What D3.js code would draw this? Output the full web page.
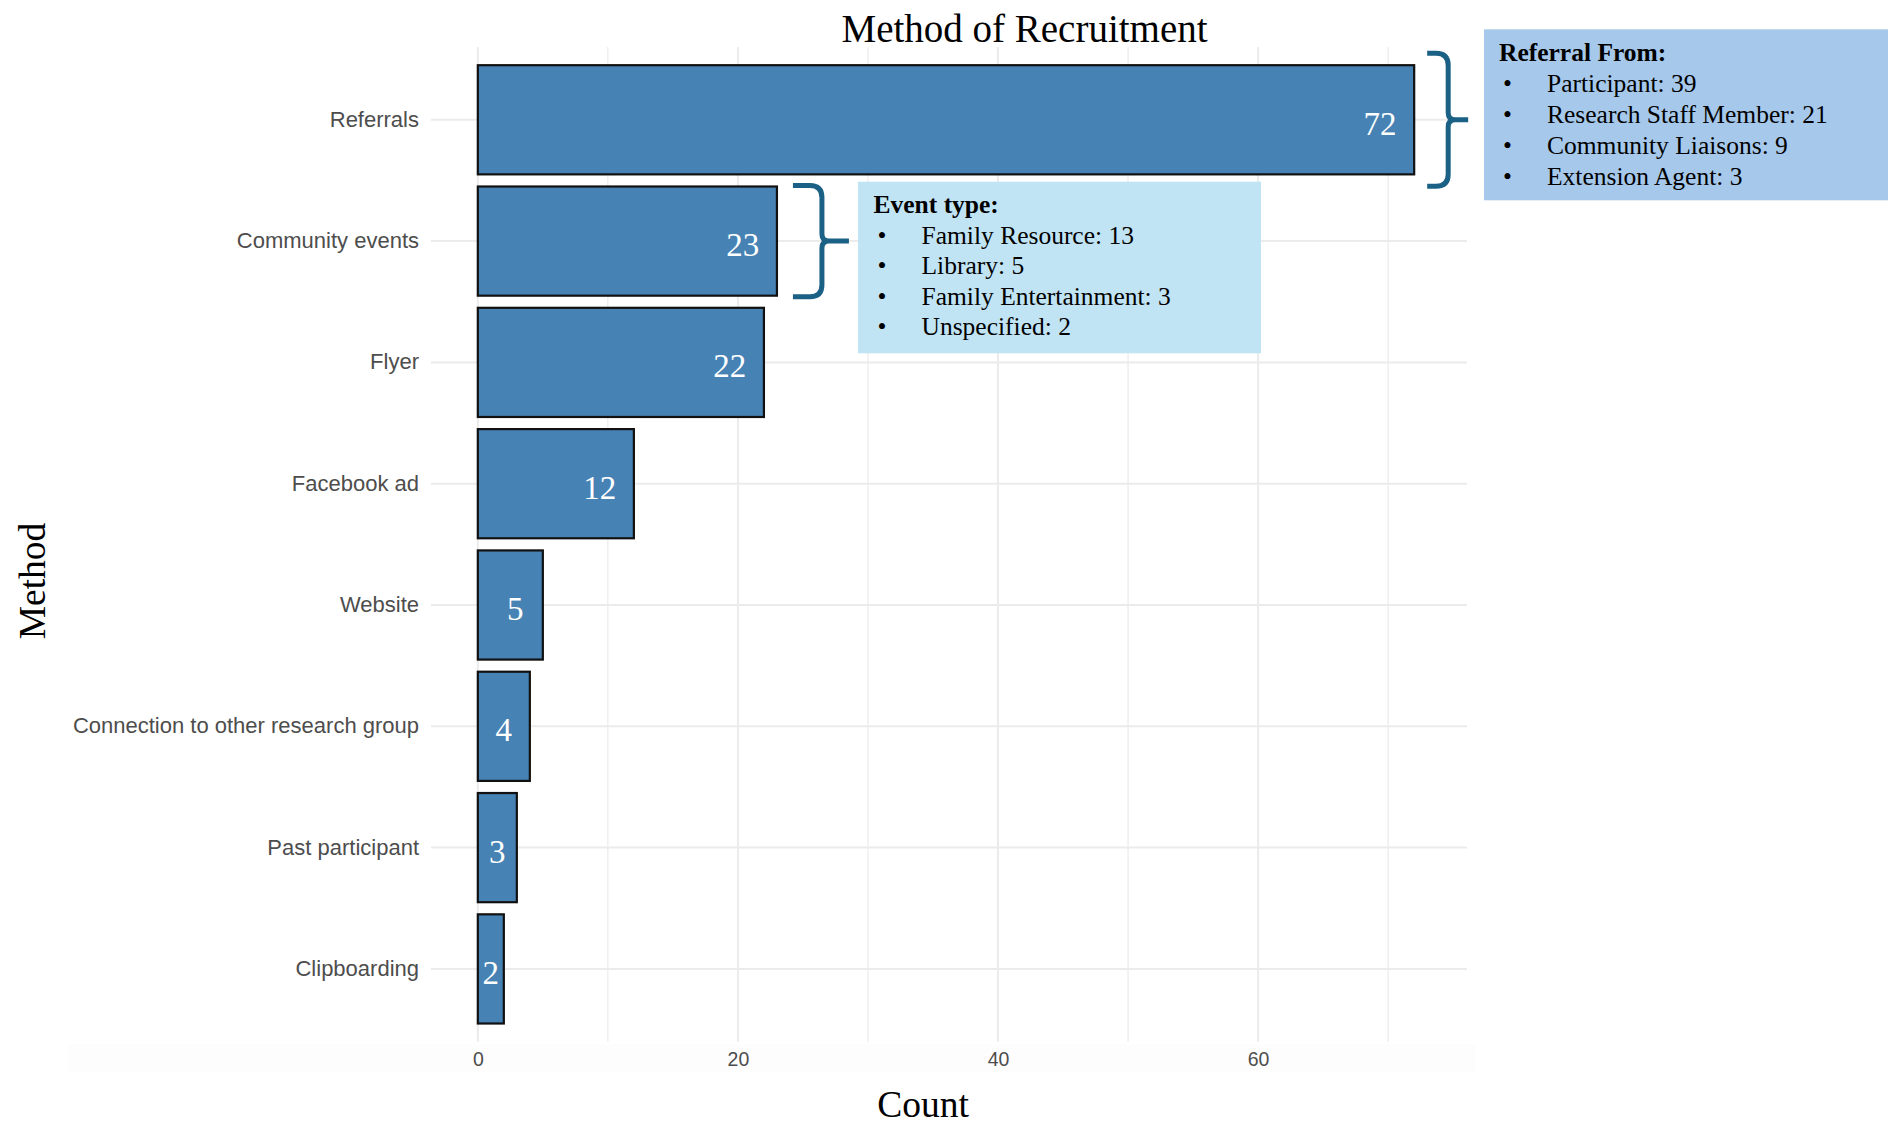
<!DOCTYPE html>
<html>
<head>
<meta charset="utf-8">
<title>Method of Recruitment</title>
<script src="https://cdn.jsdelivr.net/npm/d3@7"></script>
<style>
  body { margin: 0; background: #fff; }
  .serif { font-family: "Times New Roman", "Liberation Serif", serif; }
  .sans { font-family: Arial, "Liberation Sans", sans-serif; }
</style>
</head>
<body>
<div id="chart"></div>
<script>
// categories and counts, top to bottom
const methods = ["Referrals", "Community events", "Flyer", "Facebook ad", "Website",
  "Connection to other research group", "Past participant", "Clipboarding"];
const counts = [72, 23, 22, 12, 5, 4, 3, 2];
const xTicks = [0, 20, 40, 60];
const xMinor = [10, 30, 50, 70];

// callout boxes
const referralTitle = "Referral From:";
const referralItems = ["Participant: 39", "Research Staff Member: 21", "Community Liaisons: 9", "Extension Agent: 3"];
const eventTitle = "Event type:";
const eventItems = ["Family Resource: 13", "Library: 5", "Family Entertainment: 3", "Unspecified: 2"];

const W = 1902, H = 1131;
const panel = {left: 431, right: 1461, top: 47, bottom: 1041.7};
const grid = "#ebebeb";
const braceColor = "#1b6185";

const svg = d3.select("#chart").append("svg")
  .attr("width", W).attr("height", H);

// faint plot background strip under the x axis
svg.append("rect").attr("x", 68).attr("y", 1044).attr("width", 1407).attr("height", 28)
  .attr("fill", "#fdfdfd");

const xMax = d3.max(counts);
const x = d3.scaleLinear().domain([-0.05 * xMax, 1.05 * xMax]).range([panel.left, panel.right]);
const y = d3.scaleBand().domain(methods).range([panel.top, panel.bottom])
  .paddingInner(0.1).paddingOuter(0.15);

// grid
svg.append("g").selectAll("line").data(xMinor).enter().append("line")
  .attr("x1", d => x(d)).attr("x2", d => x(d))
  .attr("y1", panel.top).attr("y2", panel.bottom)
  .attr("stroke", grid).attr("stroke-width", 1.2);
svg.append("g").selectAll("line").data(xTicks).enter().append("line")
  .attr("x1", d => x(d)).attr("x2", d => x(d))
  .attr("y1", panel.top).attr("y2", panel.bottom)
  .attr("stroke", grid).attr("stroke-width", 2);
svg.append("g").selectAll("line").data(methods).enter().append("line")
  .attr("x1", panel.left).attr("x2", panel.right + 6)
  .attr("y1", d => y(d) + y.bandwidth() / 2).attr("y2", d => y(d) + y.bandwidth() / 2)
  .attr("stroke", grid).attr("stroke-width", 2);

// bars
const data = methods.map((m, i) => ({method: m, count: counts[i]}));
svg.append("g").selectAll("rect").data(data).enter().append("rect")
  .attr("x", x(0)).attr("y", d => y(d.method))
  .attr("width", d => x(d.count) - x(0)).attr("height", y.bandwidth())
  .attr("fill", "#4682b4").attr("stroke", "#111").attr("stroke-width", 2.2);

// value labels inside the bars
const labels = svg.append("g").selectAll("text").data(data).enter().append("text")
  .attr("class", "serif")
  .attr("text-anchor", "middle")
  .attr("font-size", 33).attr("fill", "#fff")
  .attr("y", d => y(d.method) + y.bandwidth() / 2 + 15)
  .text(d => d.count);
labels.each(function(d) {
  const w = this.getComputedTextLength();
  const mid = (x(0) + x(d.count)) / 2;
  d3.select(this).attr("x", Math.max(x(d.count) - 21 - 0.4 * w, mid));
});

// axes
const xAxis = svg.append("g").attr("class", "sans")
  .attr("transform", `translate(0,${panel.bottom})`)
  .call(d3.axisBottom(x).tickValues(xTicks).tickSize(0).tickPadding(10));
xAxis.select(".domain").remove();
xAxis.selectAll("text").attr("font-size", 19.5).attr("fill", "#4d4d4d")
  .attr("font-family", "Arial, 'Liberation Sans', sans-serif");

const yAxis = svg.append("g").attr("class", "sans")
  .attr("transform", `translate(${panel.left},0)`)
  .call(d3.axisLeft(y).tickSize(0).tickPadding(12));
yAxis.select(".domain").remove();
yAxis.selectAll("text").attr("font-size", 22).attr("fill", "#4d4d4d")
  .attr("font-family", "Arial, 'Liberation Sans', sans-serif");

// titles
svg.append("text").attr("class", "serif").attr("x", 1024.5).attr("y", 42)
  .attr("text-anchor", "middle").attr("font-size", 39).text("Method of Recruitment");
svg.append("text").attr("class", "serif").attr("x", 923).attr("y", 1117)
  .attr("text-anchor", "middle").attr("font-size", 37.5).text("Count");
svg.append("text").attr("class", "serif")
  .attr("transform", "translate(45,581) rotate(-90)")
  .attr("text-anchor", "middle").attr("font-size", 37.5).text("Method");

// curly braces
function brace(x0, arm, tip, y0, y1) {
  const xv = x0 + arm, ym = (y0 + y1) / 2, r = 12, r2 = 7;
  return `M${x0},${y0} L${xv - r},${y0} Q${xv},${y0} ${xv},${y0 + r} L${xv},${ym - r2}` +
    ` Q${xv},${ym} ${xv + r2},${ym} L${x0 + arm + tip},${ym} M${xv + r2},${ym}` +
    ` Q${xv},${ym} ${xv},${ym + r2} L${xv},${y1 - r} Q${xv},${y1} ${xv - r},${y1} L${x0},${y1}`;
}
function callout(method, arm, tip, gap, ext) {
  const bx = x(counts[methods.indexOf(method)]) + gap;
  svg.append("path")
    .attr("d", brace(bx, arm, tip, y(method) - ext, y(method) + y.bandwidth() + ext))
    .attr("fill", "none").attr("stroke", braceColor).attr("stroke-width", 5)
    .attr("stroke-linejoin", "round");
}
callout("Referrals", 21, 20, 13, 12);
callout("Community events", 29, 27, 16, 1);

function box(bx, by, bw, bh, fill, title, items, tx, ty, step) {
  svg.append("rect").attr("x", bx).attr("y", by).attr("width", bw).attr("height", bh).attr("fill", fill);
  const g = svg.append("g").attr("class", "serif").attr("font-size", 25.5).attr("fill", "#000");
  g.append("text").attr("x", tx).attr("y", ty).attr("font-weight", "bold").text(title);
  items.forEach((t, i) => {
    g.append("text").attr("x", tx + 4).attr("y", ty + step * (i + 1)).text("\u2022");
    g.append("text").attr("x", tx + 48).attr("y", ty + step * (i + 1)).text(t);
  });
}
box(1484, 29.3, 404, 171, "#a6c9eb", referralTitle, referralItems, 1499, 61, 31);
box(858, 181.7, 403, 171.6, "#c1e4f5", eventTitle, eventItems, 873.5, 213, 30.6);
</script>
</body>
</html>
